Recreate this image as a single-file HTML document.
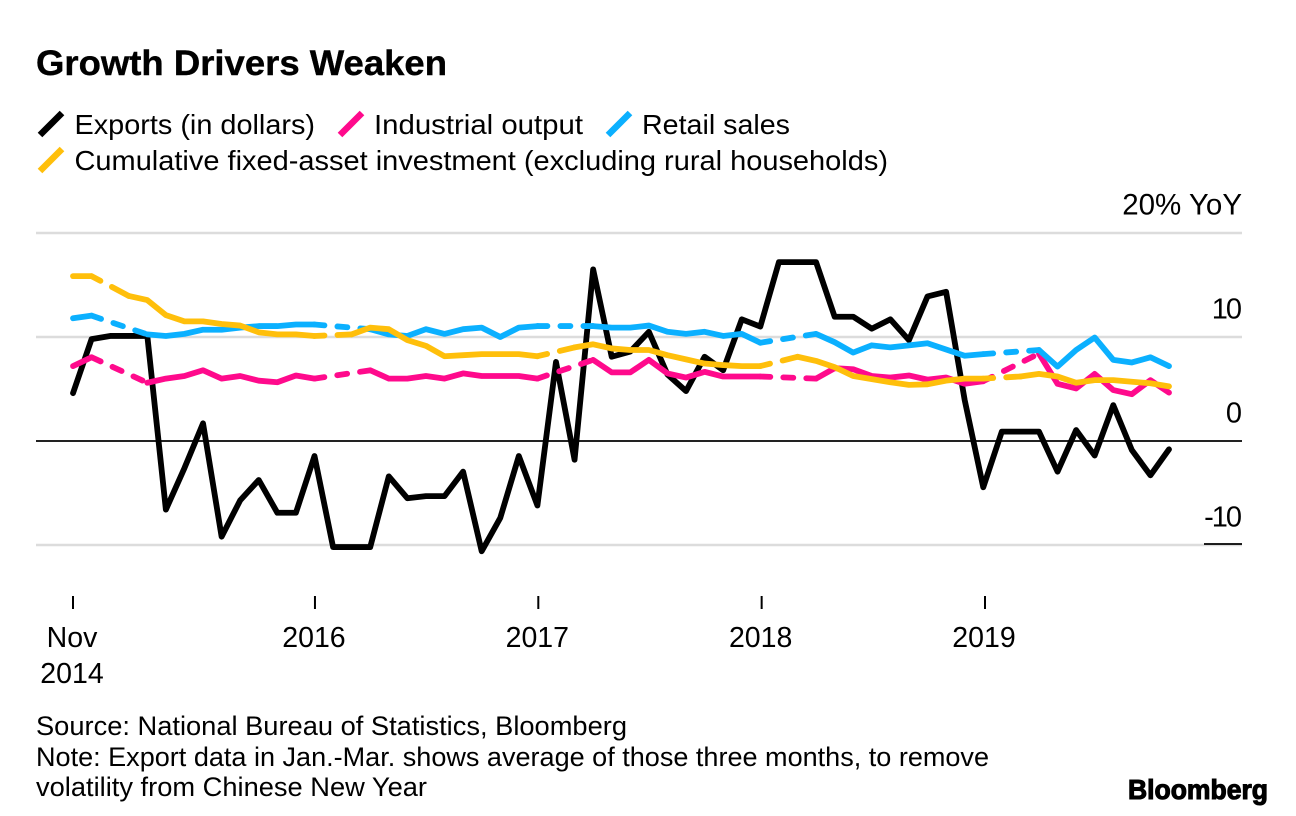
<!DOCTYPE html>
<html lang="en">
<head>
<meta charset="utf-8">
<title>Growth Drivers Weaken</title>
<style>
html,body{margin:0;padding:0;background:#fff;width:1296px;height:816px;overflow:hidden}
svg{display:block}
text{font-family:"Liberation Sans",sans-serif;fill:#000}
</style>
</head>
<body>
<svg id="chart" xmlns="http://www.w3.org/2000/svg" width="1296" height="816" viewBox="0 0 1296 816">
  <text x="36" y="75" font-size="35.5" font-weight="700" stroke="#000" stroke-width="0.4" textLength="411" lengthAdjust="spacingAndGlyphs">Growth Drivers Weaken</text>

  <g>
    <g>
      <line x1="40" y1="135" x2="62" y2="113" stroke="#000" stroke-width="6.5"/>
      <text x="74.5" y="134" font-size="28" textLength="240.5" lengthAdjust="spacingAndGlyphs">Exports (in dollars)</text>
    </g>
    <g>
      <line x1="340" y1="135" x2="362" y2="113" stroke="#ff0a8c" stroke-width="6.5"/>
      <text x="374" y="134" font-size="28" textLength="209" lengthAdjust="spacingAndGlyphs">Industrial output</text>
    </g>
    <g>
      <line x1="608" y1="135" x2="630" y2="113" stroke="#0bb0ff" stroke-width="6.5"/>
      <text x="642" y="134" font-size="28" textLength="148" lengthAdjust="spacingAndGlyphs">Retail sales</text>
    </g>
    <g>
      <line x1="40" y1="171" x2="62" y2="149" stroke="#ffbf0b" stroke-width="6.5"/>
      <text x="74.5" y="170" font-size="28" textLength="813.5" lengthAdjust="spacingAndGlyphs">Cumulative fixed-asset investment (excluding rural households)</text>
    </g>
  </g>

  <g id="grid"></g>
  <g id="yLabels"></g>
  <g id="xAxis"></g>
  <g id="series"></g>

  <g>
    <text x="36" y="735" font-size="26.5" textLength="591" lengthAdjust="spacingAndGlyphs">Source: National Bureau of Statistics, Bloomberg</text>
    <text x="36" y="766" font-size="26.5" textLength="953" lengthAdjust="spacingAndGlyphs">Note: Export data in Jan.-Mar. shows average of those three months, to remove</text>
    <text x="36" y="796" font-size="26.5" textLength="391" lengthAdjust="spacingAndGlyphs">volatility from Chinese New Year</text>
  </g>
  <text x="1128" y="799" font-size="28" font-weight="700" stroke="#000" stroke-width="1.1" textLength="140" lengthAdjust="spacingAndGlyphs">Bloomberg</text>
</svg>

<script>
const categories = [
  '2014-11','2014-12',
  '2015-01','2015-02','2015-03','2015-04','2015-05','2015-06','2015-07','2015-08','2015-09','2015-10','2015-11','2015-12',
  '2016-01','2016-02','2016-03','2016-04','2016-05','2016-06','2016-07','2016-08','2016-09','2016-10','2016-11','2016-12',
  '2017-01','2017-02','2017-03','2017-04','2017-05','2017-06','2017-07','2017-08','2017-09','2017-10','2017-11','2017-12',
  '2018-01','2018-02','2018-03','2018-04','2018-05','2018-06','2018-07','2018-08','2018-09','2018-10','2018-11','2018-12',
  '2019-01','2019-02','2019-03','2019-04','2019-05','2019-06','2019-07','2019-08','2019-09','2019-10'
];
const exportsValues = [
  4.6,9.8,10.1,10.1,10.1,-6.6,-2.6,1.7,-9.2,-5.7,
  -3.75,-6.9,-6.9,-1.44,-10.2,-10.2,-10.2,-3.4,-5.5,-5.3,
  -5.3,-2.95,-10.6,-7.4,-1.44,-6.2,7.6,-1.8,16.5,8.1,
  8.6,10.5,6.4,4.8,8.1,6.8,11.7,11,17.2,17.2,
  17.2,11.95,11.95,10.8,11.7,9.7,13.9,14.35,3.95,-4.45,
  0.9,0.9,0.9,-2.95,1.05,-1.4,3.45,-0.87,-3.3,-0.8
];
const industrialValues = [
  7.2,8.05,null,null,5.6,6,6.25,6.8,6,6.25,
  5.8,5.65,6.3,6,null,null,6.8,6,6,6.25,
  6,6.5,6.25,6.25,6.25,6,null,null,7.8,6.6,
  6.6,7.8,6.5,6.1,6.65,6.2,6.2,6.2,null,null,
  6,7,6.9,6.25,6.1,6.3,5.9,6.1,5.5,5.75,
  null,null,8.4,5.5,5.05,6.45,4.9,4.5,5.85,4.65
];
const retailValues = [
  11.8,12.05,null,null,10.25,10.1,10.3,10.7,10.7,10.9,
  11.05,11.05,11.2,11.2,null,null,10.75,10.25,10.1,10.75,
  10.3,10.75,10.9,10,10.9,11.05,null,null,11.05,10.9,
  10.9,11.1,10.5,10.3,10.5,10.1,10.3,9.45,null,null,
  10.3,9.5,8.5,9.2,9,9.2,9.4,8.8,8.2,8.35,
  null,null,8.75,7.15,8.75,9.95,7.8,7.55,8.05,7.2
];
const investmentValues = [
  15.85,15.85,null,13.95,13.55,12.1,11.5,11.5,11.25,11.1,
  10.45,10.25,10.25,10.1,null,10.25,10.9,10.75,9.7,9.15,
  8.15,8.25,8.35,8.35,8.35,8.15,null,9,9.3,8.9,
  8.75,8.75,8.25,7.85,7.45,7.3,7.2,7.2,null,8.1,
  7.7,7.1,6.25,5.95,5.65,5.4,5.45,5.8,6,6,
  null,6.2,6.45,6.2,5.6,5.85,5.85,5.7,5.55,5.25
];
const yTickValues = [20,10,0,-10];
const yTickLabels = ['20% YoY','10','0','-10'];
const xTickCategories = ['2014-11','2015-12','2016-12','2017-12','2018-12'];
const xTickLabels = [['Nov','2014'],['2016'],['2017'],['2018'],['2019']];

const NS = 'http://www.w3.org/2000/svg';
const xScale = i => 73 + i * (1096 / (categories.length - 1));
const xTickScale = i => 73 + i * (912 / 49);
const yScale = v => 441 - v * 10.4;
const make = (tag, parent) => parent.appendChild(document.createElementNS(NS, tag));

/* gridlines */
const grid = document.getElementById('grid');
yTickValues.forEach(v => {
  const l = make('line', grid);
  
  
  l.setAttribute('x1', 36);
  l.setAttribute('x2', 1242);
  l.setAttribute('y1', yScale(v));
  l.setAttribute('y2', yScale(v));
  l.setAttribute('stroke', v === 0 ? '#222' : '#dcdcdc');
  l.setAttribute('stroke-width', v === 0 ? 2 : 2.6);
});

/* right-hand value labels with short dark rule for the lowest tick */
const yLabels = document.getElementById('yLabels');
yTickValues.forEach((v, k) => {
  const tight = v !== 0 && k > 0;
  const t = make('text', yLabels);
  
  
  t.setAttribute('x', tight ? 1240 : 1242);
  t.setAttribute('y', yScale(v) - 18.5);
  t.setAttribute('text-anchor', 'end');
  t.setAttribute('font-size', k === 0 ? 29.5 : 29);
  if (tight) t.setAttribute('letter-spacing', '-2');
  t.textContent = yTickLabels[k];
  if (v < 0) {
    const r = make('line', yLabels);
    
    
    r.setAttribute('x1', 1204);
    r.setAttribute('x2', 1242);
    r.setAttribute('y1', yScale(v) - 1);
    r.setAttribute('y2', yScale(v) - 1);
    r.setAttribute('stroke', '#000');
    r.setAttribute('stroke-width', 1.8);
  }
});

/* x axis */
const xAxis = document.getElementById('xAxis');
xTickCategories.forEach((c, k) => {
  const x = xTickScale(categories.indexOf(c));
  const tick = make('line', xAxis);
  
  
  tick.setAttribute('x1', x);
  tick.setAttribute('x2', x);
  tick.setAttribute('y1', 596);
  tick.setAttribute('y2', 609);
  tick.setAttribute('stroke', '#000');
  tick.setAttribute('stroke-width', 2);
  xTickLabels[k].forEach((txt, n) => {
    const t = make('text', xAxis);
    
    
    t.setAttribute('x', x - 1);
    t.setAttribute('y', 647 + n * 36);
    t.setAttribute('text-anchor', 'middle');
    t.setAttribute('font-size', 28.5);
    t.textContent = txt;
  });
});

/* series: solid between adjacent readings, dashed across missing months */
const seriesHost = document.getElementById('series');
function addPath(name, d, color, dash) {
  const p = make('path', seriesHost);
  
  
  p.setAttribute('d', d);
  p.setAttribute('fill', 'none');
  p.setAttribute('stroke', color);
  p.setAttribute('stroke-width', 5.8);
  p.setAttribute('stroke-linecap', 'round');
  p.setAttribute('stroke-linejoin', 'round');
  if (dash) p.setAttribute('stroke-dasharray', dash);
}
function drawSeries(name, values, color) {
  let run = '', last = -1;
  values.forEach((v, i) => {
    if (v === null) return;
    const pt = xScale(i).toFixed(2) + ' ' + yScale(v).toFixed(2);
    if (last >= 0 && i - last > 1) {
      addPath(name + '-line', run, color, null);
      const dash = i - last === 2 ? '10 13 80' : '10 13';
      addPath(name + '-gap-line', 'M' + xScale(last).toFixed(2) + ' ' + yScale(values[last]).toFixed(2) + 'L' + pt, color, dash);
      run = '';
    }
    run += (run ? 'L' : 'M') + pt;
    last = i;
  });
  addPath(name + '-line', run, color, null);
}
drawSeries('exports', exportsValues, '#000000');
drawSeries('industrial-output', industrialValues, '#ff0a8c');
drawSeries('retail-sales', retailValues, '#0bb0ff');
drawSeries('fixed-asset-investment', investmentValues, '#ffbf0b');
</script>
</body>
</html>
